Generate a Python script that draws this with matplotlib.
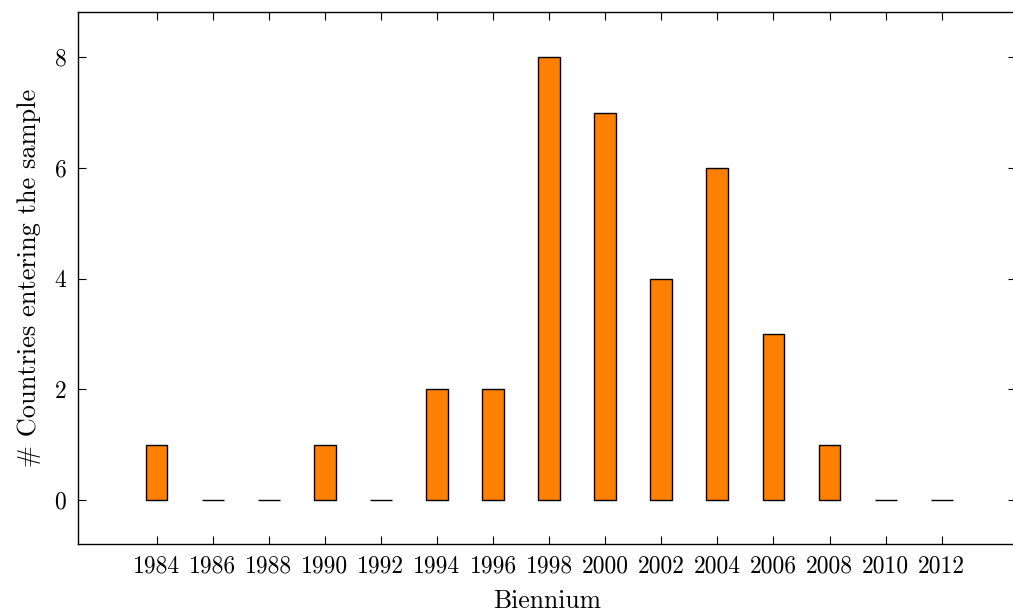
import matplotlib
matplotlib.use("Agg")
import matplotlib.pyplot as plt

years = [1984, 1986, 1988, 1990, 1992, 1994, 1996, 1998, 2000, 2002, 2004, 2006, 2008, 2010, 2012]
counts = [1, 0, 0, 1, 0, 2, 2, 8, 7, 4, 6, 3, 1, 0, 0]
yticks = [0, 2, 4, 6, 8]

plt.rcParams['font.family'] = ['cmr10', 'DejaVu Serif']
plt.rcParams['axes.formatter.use_mathtext'] = True
plt.rcParams['mathtext.fontset'] = 'cm'

fig = plt.figure(figsize=(10.13, 6.14), dpi=100)
ax = fig.add_axes([0.077, 0.114, 0.926, 0.866])

ax.bar(years, counts, width=0.78, color='#FF8000', edgecolor='black', linewidth=1.0)

ax.set_xlim(1981.2, 2014.65)
ax.set_ylim(-0.79, 8.81)
ax.set_xticks(years)
ax.set_xticklabels([str(y) for y in years])
ax.set_yticks(yticks)
ax.tick_params(direction='in', length=6, width=0.8, top=True, right=True, labelsize=17, pad=8)
for s in ax.spines.values():
    s.set_linewidth(1.0)

ax.set_xlabel('Biennium', fontsize=18.5, labelpad=9)
ax.set_ylabel('# Countries entering the sample', fontsize=19, labelpad=9)

fig.savefig('out.png', dpi=100)
